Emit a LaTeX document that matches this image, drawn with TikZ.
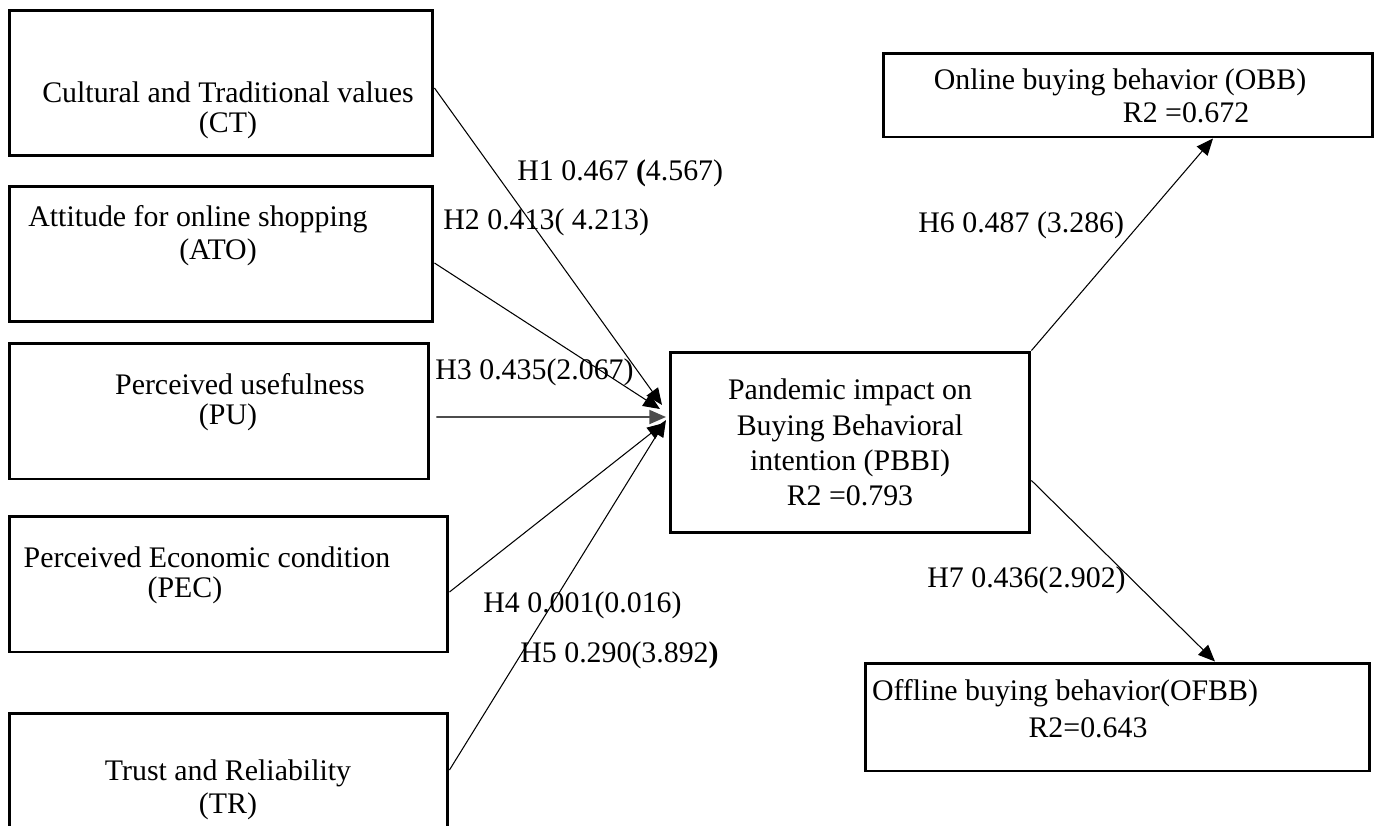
\documentclass[tikz,border=0pt]{standalone}
\usepackage{fontspec}
\setmainfont{Liberation Serif}
\usetikzlibrary{arrows.meta}

\tikzset{
  box/.style={draw,line width=1.7pt,inner sep=0pt},
  txt/.style={inner sep=0pt,align=center},
  lbl/.style={inner sep=0pt,anchor=west},
  link/.style={line width=0.6pt,-{Triangle[length=9.5pt,width=8pt]}}
}

\begin{document}
\begin{tikzpicture}[x=0.02cm,y=-0.02cm,font=\fontsize{17}{20}\selectfont]
  \clip (0,0) rectangle (1375,825);

  % left side boxes
  \node[box,minimum width=8.48cm,minimum height=2.92cm] (ct) at (221,83) {};
  \node[box,minimum width=8.48cm,minimum height=2.72cm] (ato) at (221,254) {};
  \node[box,minimum width=8.4cm,minimum height=2.72cm] (pu) at (219,411) {};
  \node[box,minimum width=8.78cm,minimum height=2.72cm] (pec) at (228.5,584) {};
  \node[box,minimum width=8.78cm,minimum height=2.54cm] (tr) at (228.5,776.5) {};

  \node[txt] (ctT1) at (228,92) {Cultural and Traditional values};
  \node[txt] (ctT2) at (228,125) {(CT)};
  \node[txt] (atoT1) at (198,219) {Attitude for online shopping};
  \node[txt] (atoT2) at (218,252) {(ATO)};
  \node[txt] (puT1) at (240,384) {Perceived usefulness};
  \node[txt] (puT2) at (228,417) {(PU)};
  \node[txt] (pecT1) at (207,557) {Perceived Economic condition};
  \node[txt] (pecT2) at (185,590) {(PEC)};
  \node[txt] (trT1) at (228,773) {Trust and Reliability};
  \node[txt] (trT2) at (228,806) {(TR)};

  % centre and right side
  \node[box,minimum width=7.2cm,minimum height=3.62cm,align=center] (pbbi) at (850,442.5)
    {Pandemic impact on\\Buying Behavioral\\intention (PBBI)\\R2 =0.793};
  \node[box,minimum width=9.8cm,minimum height=1.68cm] (obb) at (1128,95) {};
  \node[box,minimum width=10.1cm,minimum height=2.16cm] (ofbb) at (1117.5,717) {};

  \node[txt] (obbT1) at (1120,82) {Online buying behavior (OBB)};
  \node[txt] (obbT2) at (1186,113) {R2 =0.672};
  \node[txt] (ofbbT1) at (1065,693) {Offline buying behavior(OFBB)};
  \node[txt] (ofbbT2) at (1088,728) {R2=0.643};

  % paths into PBBI
  \coordinate (pin) at (666,415);
  \draw[link] ([yshift=-0.1cm]ct.east) -- ([shift={(-4,-10)}]pin);
  \draw[link] ([yshift=-0.18cm]ato.east) -- ([shift={(-6,-6)}]pin);
  \draw[link,line width=1pt,black!70] ([xshift=0.12cm,yshift=-0.12cm]pu.east) -- ([shift={(0,2)}]pin);
  \draw[link] ([yshift=-0.16cm]pec.east) -- ([shift={(-2,8)}]pin);
  \draw[link] ([yshift=0.13cm]tr.east) -- ([shift={(0,5)}]pin);

  % paths out of PBBI
  \draw[link] (pbbi.north east) -- ([xshift=1.7cm]obb.south);
  \draw[link] ([yshift=-0.76cm]pbbi.east) -- ([xshift=1.95cm]ofbb.north);

  % path labels
  \node[lbl] (h1) at (517,173) {H1 0.467 \textbf{(}4.567)};
  \node[lbl] (h2) at (443,222) {H2 0.413( 4.213)};
  \node[lbl] (h3) at (435,372) {H3 0.435(2.067)};
  \node[lbl] (h4) at (483,605) {H4 0.001(0.016)};
  \node[lbl] (h5) at (520,655) {H5 0.290(3.892\textbf{)}};
  \node[lbl] (h6) at (918,225) {H6 0.487 (3.286)};
  \node[lbl] (h7) at (927,580) {H7 0.436(2.902)};
\end{tikzpicture}
\end{document}
